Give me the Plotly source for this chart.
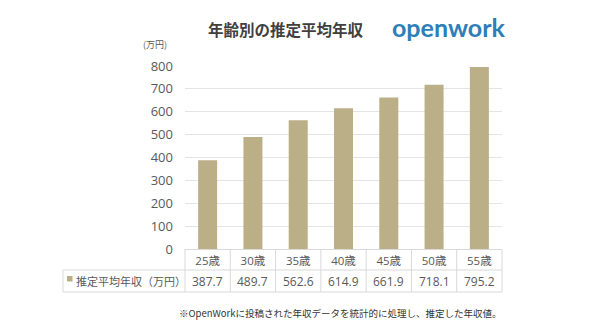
import plotly.graph_objects as go

# Estimated average annual income by age (unit: 10,000 yen)
ages = ["25歳", "30歳", "35歳", "40歳", "45歳", "50歳", "55歳"]
income = [387.7, 489.7, 562.6, 614.9, 661.9, 718.1, 795.2]
y_ticks = [0, 100, 200, 300, 400, 500, 600, 700, 800]

series_name = "推定平均年収（万円）"
title_text = "年齢別の推定平均年収"
unit_text = "(万円)"
brand_text = "openwork"
note_text = "※OpenWorkに投稿された年収データを統計的に処理し、推定した年収値。"

W, H = 590, 336
L, R, T, B = 185, 88, 66, 87          # plot area margins (px)
PW, PH = W - L - R, H - T - B

BAR = "#bbaf88"
GRID = "#e4e4e4"
TABLE = "#d9d9d9"
TXT = "#595959"
LATIN_CJK = "Open Sans, Noto Sans CJK JP"
CJK = "Noto Sans CJK JP"


def px_x(px):
    """Horizontal pixel -> paper coordinate."""
    return (px - L) / PW


def px_y(py):
    """Vertical pixel (from top) -> paper coordinate."""
    return (H - B - py) / PH


def label(x, y, text, font, xanchor="center", xref="paper"):
    return dict(x=x, y=y, xref=xref, yref="paper", text=text, showarrow=False,
                xanchor=xanchor, yanchor="middle", font=font)


fig = go.Figure(
    go.Bar(
        x=ages,
        y=income,
        marker=dict(color=BAR, line=dict(width=0)),
        hoverinfo="x+y",
    )
)

# Data-table grid below the plot
row1_top, row2_top, row2_bot = 250, 270, 292
left_edge = 63
shapes = []
line = dict(color=TABLE, width=1)
shapes.append(dict(type="line", xref="paper", yref="paper", x0=px_x(left_edge), x1=1,
                   y0=px_y(row2_top), y1=px_y(row2_top), line=line))
shapes.append(dict(type="line", xref="paper", yref="paper", x0=px_x(left_edge), x1=1,
                   y0=px_y(row2_bot), y1=px_y(row2_bot), line=line))
shapes.append(dict(type="line", xref="paper", yref="paper", x0=px_x(left_edge), x1=px_x(left_edge),
                   y0=px_y(row2_top), y1=px_y(row2_bot), line=line))
for k in range(len(ages) + 1):
    shapes.append(dict(type="line", xref="paper", yref="paper", x0=k / len(ages), x1=k / len(ages),
                       y0=0, y1=px_y(row2_bot), line=line))
# legend key square
shapes.append(dict(type="rect", xref="paper", yref="paper", x0=px_x(67), x1=px_x(72.5),
                   y0=px_y(281.5), y1=px_y(276), fillcolor=BAR, line=dict(width=0)))

annotations = []
row2_mid = px_y((row2_top + row2_bot) / 2)
for a, v in zip(ages, income):
    annotations.append(label(a, row2_mid, f"{v:.1f}",
                             dict(family=LATIN_CJK, size=12, color=TXT), xref="x"))
annotations.append(label(px_x(74), row2_mid, series_name,
                         dict(family=CJK, size=11, color=TXT), xanchor="left"))
annotations.append(label(px_x(286), px_y(29), f"<b>{title_text}</b>",
                         dict(family=CJK, size=15.5, color="#404040")))
annotations.append(label(px_x(448), px_y(27), f"<b>{brand_text}</b>",
                         dict(family="Lato", size=25, color="#2c7fb8")))
annotations.append(label(px_x(141), px_y(44), unit_text,
                         dict(family=CJK, size=9, color=TXT), xanchor="left"))
annotations.append(label(px_x(340), px_y(313), note_text,
                         dict(family=CJK, size=9.5, color="#333333")))

fig.update_layout(
    width=W, height=H,
    margin=dict(l=L, r=R, t=T, b=B, pad=0),
    paper_bgcolor="white", plot_bgcolor="white",
    showlegend=False,
    bargap=0.58,
    shapes=shapes,
    annotations=annotations,
    xaxis=dict(
        type="category", range=[-0.5, len(ages) - 0.5],
        showline=True, linecolor=TABLE, linewidth=1,
        showgrid=False, ticks="",
        tickfont=dict(family=LATIN_CJK, size=11.5, color=TXT),
        ticklabelstandoff=1,
    ),
    yaxis=dict(
        range=[0, 800], tickvals=y_ticks,
        showgrid=True, gridcolor=GRID, gridwidth=1,
        zeroline=False, showline=False, ticks="",
        tickfont=dict(family=LATIN_CJK, size=13, color=TXT),
        ticklabelstandoff=11,
    ),
)

fig.write_html("out.html")
